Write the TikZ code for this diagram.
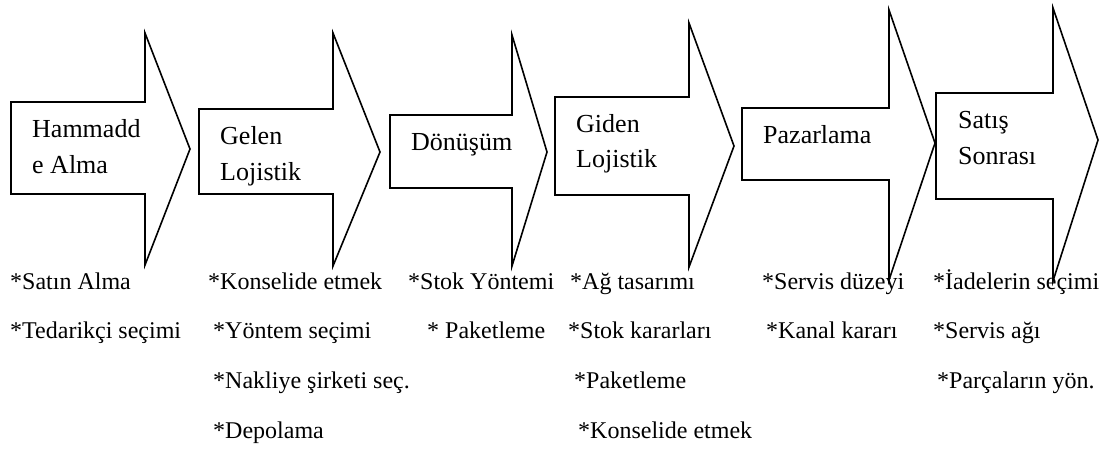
\documentclass[tikz,border=0pt]{standalone}
\usepackage{fontspec}
\setmainfont{Liberation Serif}
\begin{document}
\begin{tikzpicture}[x=1pt,y=-1pt,
  arrowshape/.style={draw=black,line width=1.6pt,fill=white,line join=miter},
  headlbl/.style={anchor=base west,inner sep=0pt,font=\fontsize{26}{31}\selectfont},
  itemlbl/.style={anchor=base west,inner sep=0pt,font=\fontsize{24}{29}\selectfont}]
\useasboundingbox (0,0) rectangle (1099,459);
% arrows: L,T,B,S,HT,HB,X,Y
\newcommand{\myarrow}[8]{%
  \draw[arrowshape] (#1,#2) -- (#4,#2) -- (#4,#5) -- (#7,#8) -- (#4,#6) -- (#4,#3) -- (#1,#3) -- cycle;}
\myarrow{11}{102}{194}{145}{33}{265}{190}{149}
\myarrow{199}{109}{194}{333}{33}{266}{380}{152}
\myarrow{390}{115}{188}{512}{35}{266}{547}{152}
\myarrow{555}{97}{195}{689}{23}{267}{734}{146}
\myarrow{742}{108}{180}{889}{10}{280}{935}{143}
\myarrow{936}{93}{199}{1053}{8}{281}{1098}{140}
% arrow labels
\node[headlbl] (h1a) at (32,137) {Hammadd};
\node[headlbl] (h1b) at (32,173) {e Alma};
\node[headlbl] (h2a) at (220,144) {Gelen};
\node[headlbl] (h2b) at (220,180) {Lojistik};
\node[headlbl] (h3a) at (411,150) {Dönüşüm};
\node[headlbl] (h4a) at (576,132) {Giden};
\node[headlbl] (h4b) at (576,167) {Lojistik};
\node[headlbl] (h5a) at (763,143) {Pazarlama};
\node[headlbl] (h6a) at (958,128) {Satış};
\node[headlbl] (h6b) at (958,164) {Sonrası};
% items
\node[itemlbl] (i1a) at (10,289) {*Satın Alma};
\node[itemlbl] (i1b) at (10,338) {*Tedarikçi seçimi};
\node[itemlbl] (i2a) at (208,289) {*Konselide etmek};
\node[itemlbl] (i2b) at (213,338) {*Yöntem seçimi};
\node[itemlbl] (i2c) at (213,388) {*Nakliye şirketi seç.};
\node[itemlbl] (i2d) at (213,438) {*Depolama};
\node[itemlbl] (i3a) at (408,289) {*Stok Yöntemi};
\node[itemlbl] (i3b) at (427,338) {* Paketleme};
\node[itemlbl] (i4a) at (570,289) {*Ağ tasarımı};
\node[itemlbl] (i4b) at (568,338) {*Stok kararları};
\node[itemlbl] (i4c) at (574,388) {*Paketleme};
\node[itemlbl] (i4d) at (578,438) {*Konselide etmek};
\node[itemlbl] (i5a) at (762,289) {*Servis düzeyi};
\node[itemlbl] (i5b) at (766,338) {*Kanal kararı};
\node[itemlbl] (i6a) at (933,289) {*İadelerin seçimi};
\node[itemlbl] (i6b) at (933,338) {*Servis ağı};
\node[itemlbl] (i6c) at (937,388) {*Parçaların yön.};
\end{tikzpicture}
\end{document}
